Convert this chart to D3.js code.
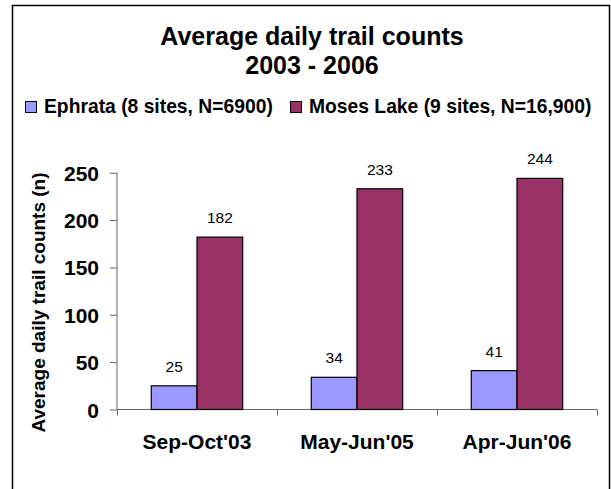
<!DOCTYPE html>
<html>
<head>
<meta charset="utf-8">
<title>Average daily trail counts</title>
<style type="text/css">
	body {
		margin: 0;
		background: white;
	}
	svg text {
		font-family: "Liberation Sans", Arial, sans-serif;
		fill: black;
	}
</style>
</head>
<body>
<svg id="chart"></svg>

<script src="https://d3js.org/d3.v7.min.js"></script>
<script type="text/javascript">
	// chart data
	var categories = ["Sep-Oct'03", "May-Jun'05", "Apr-Jun'06"];
	var seriesNames = ["Ephrata (8 sites, N=6900)", "Moses Lake (9 sites, N=16,900)"];
	var ephrata = [25, 34, 41];
	var mosesLake = [182, 233, 244];
	var yTicks = [0, 50, 100, 150, 200, 250];
	var colors = ["#9999ff", "#993366"];

	var width = 611,
		height = 489;

	var svg = d3.select("#chart")
		.attr("width", width)
		.attr("height", height);

	// outer frame (bottom edge falls off the picture)
	svg.append("path")
		.attr("d", "M12.5,495V5.5H609.5V495")
		.attr("fill", "none")
		.attr("stroke", "black")
		.attr("stroke-width", 1.5);

	// title
	var title = svg.append("text")
		.attr("text-anchor", "middle")
		.style("font-size", "25px")
		.style("font-weight", "bold");
	title.append("tspan").attr("x", 312).attr("y", 45).text("Average daily trail counts");
	title.append("tspan").attr("x", 312).attr("y", 74).text("2003 - 2006");

	// legend
	var legendX = [25, 290];
	var legend = svg.append("g").selectAll("g")
		.data(seriesNames)
		.enter().append("g")
		.attr("transform", (d, i) => `translate(${legendX[i]},0)`);
	legend.append("rect")
		.attr("x", 0.5).attr("y", 101.5)
		.attr("width", 11).attr("height", 11)
		.attr("fill", (d, i) => colors[i])
		.attr("stroke", "black");
	legend.append("text")
		.attr("x", 19).attr("y", 113)
		.style("font-size", "19.3px")
		.style("font-weight", "bold")
		.text(d => d);

	// scales
	var x0 = d3.scaleBand()
		.domain(categories)
		.range([117, 597]);

	var bw = x0.bandwidth();
	var x1 = d3.scaleBand()
		.domain(seriesNames)
		.range([bw * 0.75 / 3.5, bw - bw * 0.75 / 3.5]);

	var y = d3.scaleLinear()
		.domain([0, 250])
		.range([409.5, 172.7]);

	// y axis
	var yAxis = svg.append("g")
		.attr("transform", "translate(117,0)")
		.call(d3.axisLeft(y).tickValues(yTicks).tickSize(7).tickPadding(11));
	yAxis.select(".domain").attr("stroke", "#666").attr("d", `M0,${y(0)}V${y(250)}`);
	yAxis.selectAll(".tick line").attr("stroke", "#666");
	yAxis.selectAll(".tick text")
		.style("font-size", "21px")
		.style("font-weight", "bold")
		.style("font-family", "'Liberation Sans', Arial, sans-serif")
		.attr("fill", "black")
		.attr("dy", "0.36em");

	// y axis title
	svg.append("text")
		.attr("transform", "translate(45,302.5) rotate(-90)")
		.attr("text-anchor", "middle")
		.style("font-size", "19px")
		.style("font-weight", "bold")
		.text("Average daily trail counts (n)");

	// x axis: ticks at category boundaries
	var xAxis = svg.append("g").attr("class", "x-axis");
	xAxis.append("line")
		.attr("x1", 117).attr("x2", 597)
		.attr("y1", y(0)).attr("y2", y(0))
		.attr("stroke", "#666");
	var bounds = categories.map(c => x0(c)).concat([x0(categories[2]) + bw]);
	xAxis.selectAll(".bound")
		.data(bounds)
		.enter().append("line")
		.attr("class", "bound")
		.attr("x1", d => Math.round(d) + 0.5).attr("x2", d => Math.round(d) + 0.5)
		.attr("y1", y(0)).attr("y2", y(0) + 6)
		.attr("stroke", "#666");
	xAxis.selectAll(".cat")
		.data(categories)
		.enter().append("text")
		.attr("class", "cat")
		.attr("x", d => x0(d) + bw / 2)
		.attr("y", 449)
		.attr("text-anchor", "middle")
		.style("font-size", "21px")
		.style("font-weight", "bold")
		.text(d => d);

	// bars
	var rows = categories.map((c, i) => ({
		cat: c,
		vals: [
			{ name: seriesNames[0], value: ephrata[i], color: colors[0] },
			{ name: seriesNames[1], value: mosesLake[i], color: colors[1] }
		]
	}));

	var groups = svg.append("g").selectAll("g")
		.data(rows)
		.enter().append("g")
		.attr("transform", d => `translate(${x0(d.cat)},0)`);

	groups.selectAll("rect")
		.data(d => d.vals)
		.enter().append("rect")
		.attr("x", d => x1(d.name))
		.attr("y", d => y(d.value))
		.attr("width", x1.bandwidth())
		.attr("height", d => y(0) - y(d.value))
		.attr("fill", d => d.color)
		.attr("stroke", "black")
		.attr("stroke-width", 1.2);

	groups.selectAll(".lbl")
		.data(d => d.vals)
		.enter().append("text")
		.attr("class", "lbl")
		.attr("x", d => x1(d.name) + x1.bandwidth() / 2)
		.attr("y", d => y(d.value) - 14)
		.attr("text-anchor", "middle")
		.style("font-size", "15.5px")
		.text(d => d.value);
</script>
</body>
</html>
